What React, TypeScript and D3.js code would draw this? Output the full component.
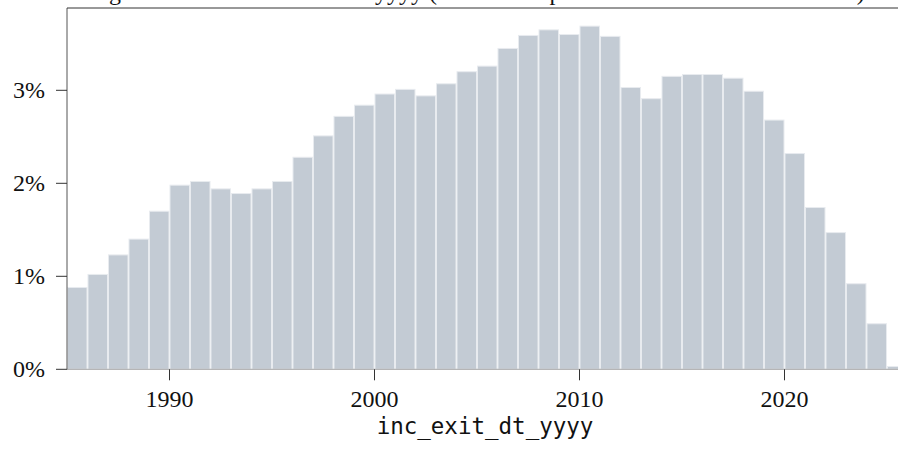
import React, { useEffect, useRef } from "react";
import { select, scaleLinear } from "d3";

const years = [
  1985, 1986, 1987, 1988, 1989, 1990, 1991, 1992, 1993, 1994, 1995, 1996, 1997,
  1998, 1999, 2000, 2001, 2002, 2003, 2004, 2005, 2006, 2007, 2008, 2009, 2010,
  2011, 2012, 2013, 2014, 2015, 2016, 2017, 2018, 2019, 2020, 2021, 2022, 2023,
  2024, 2025,
];
// share of exits per year, in percent
const shares = [
  0.88, 1.02, 1.23, 1.4, 1.7, 1.98, 2.02, 1.94, 1.89, 1.94, 2.02, 2.28, 2.51,
  2.72, 2.84, 2.96, 3.01, 2.94, 3.07, 3.2, 3.26, 3.45, 3.59, 3.65, 3.6, 3.69,
  3.58, 3.03, 2.91, 3.15, 3.17, 3.17, 3.13, 2.99, 2.68, 2.32, 1.74, 1.47, 0.92,
  0.49, 0.03,
];
const xTicks = [1990, 2000, 2010, 2020];
const yTicks = [0, 1, 2, 3];
const title =
  "Histogram of incubator exit date yyyy (share of all portfolio exits in the full dataset)";
const xLabel = "inc_exit_dt_yyyy";

const width = 898;
const height = 450;
const serif = "'Liberation Serif', 'Times New Roman', serif";

const App: React.FC = () => {
  const svgRef = useRef<SVGSVGElement | null>(null);

  useEffect(() => {
    document.body.style.margin = "0";
    const left = 67;
    const top = 8;
    const bottom = 369.3;

    const xScale = scaleLinear().domain([1985, 2026]).range([left, 907.5]);
    const yScale = scaleLinear().domain([0, 3.885]).range([bottom, top]);

    const svg = select(svgRef.current);
    svg.selectAll("*").remove();
    svg.attr("width", width).attr("height", height);

    // bars
    svg
      .append("g")
      .selectAll("rect")
      .data(years)
      .join("rect")
      .attr("x", (d) => xScale(d) + 0.5)
      .attr("width", (d) => xScale(d + 1) - xScale(d) - 1)
      .attr("y", (d, i) => yScale(shares[i]))
      .attr("height", (d, i) => bottom - yScale(shares[i]))
      .attr("fill", "#c3cbd4")
      .attr("stroke", "#e8ebef")
      .attr("stroke-width", 1);

    // baseline
    svg
      .append("line")
      .attr("x1", left)
      .attr("x2", width)
      .attr("y1", bottom)
      .attr("y2", bottom)
      .attr("stroke", "#a8a8a8")
      .attr("stroke-width", 1);

    // spines
    svg
      .append("line")
      .attr("x1", left)
      .attr("x2", left)
      .attr("y1", top)
      .attr("y2", bottom)
      .attr("stroke", "#555")
      .attr("stroke-width", 1);
    svg
      .append("line")
      .attr("x1", left)
      .attr("x2", width)
      .attr("y1", top)
      .attr("y2", top)
      .attr("stroke", "#333")
      .attr("stroke-width", 1);

    // y axis
    const yAxis = svg.append("g");
    yAxis
      .selectAll("line")
      .data(yTicks)
      .join("line")
      .attr("x1", left - 11)
      .attr("x2", left)
      .attr("y1", (d) => yScale(d))
      .attr("y2", (d) => yScale(d))
      .attr("stroke", "#333");
    yAxis
      .selectAll("text")
      .data(yTicks)
      .join("text")
      .attr("x", 45)
      .attr("y", (d) => yScale(d))
      .attr("dy", "0.33em")
      .attr("text-anchor", "end")
      .attr("font-family", serif)
      .attr("font-size", 24)
      .attr("fill", "#111")
      .text((d) => `${d}%`);

    // x axis
    const xAxis = svg.append("g");
    xAxis
      .selectAll("line")
      .data(xTicks)
      .join("line")
      .attr("x1", (d) => xScale(d))
      .attr("x2", (d) => xScale(d))
      .attr("y1", bottom)
      .attr("y2", bottom + 11)
      .attr("stroke", "#333");
    xAxis
      .selectAll("text")
      .data(xTicks)
      .join("text")
      .attr("x", (d) => xScale(d))
      .attr("y", 406.5)
      .attr("text-anchor", "middle")
      .attr("font-family", serif)
      .attr("font-size", 24)
      .attr("fill", "#111")
      .text((d) => d);

    svg
      .append("text")
      .attr("x", 485)
      .attr("y", 434)
      .attr("text-anchor", "middle")
      .attr("font-family", "'DejaVu Sans Mono', monospace")
      .attr("font-size", 22.5)
      .attr("fill", "#111")
      .text(xLabel);

    // title, cut off by the top edge so only its descenders show
    svg
      .append("text")
      .attr("x", 57)
      .attr("y", -0.5)
      .attr("font-family", serif)
      .attr("font-size", 24)
      .attr("fill", "#111")
      .text(title);
  }, []);

  return (
    <div>
      <svg ref={svgRef} style={{ display: "block" }}></svg>
    </div>
  );
};

export default App;
